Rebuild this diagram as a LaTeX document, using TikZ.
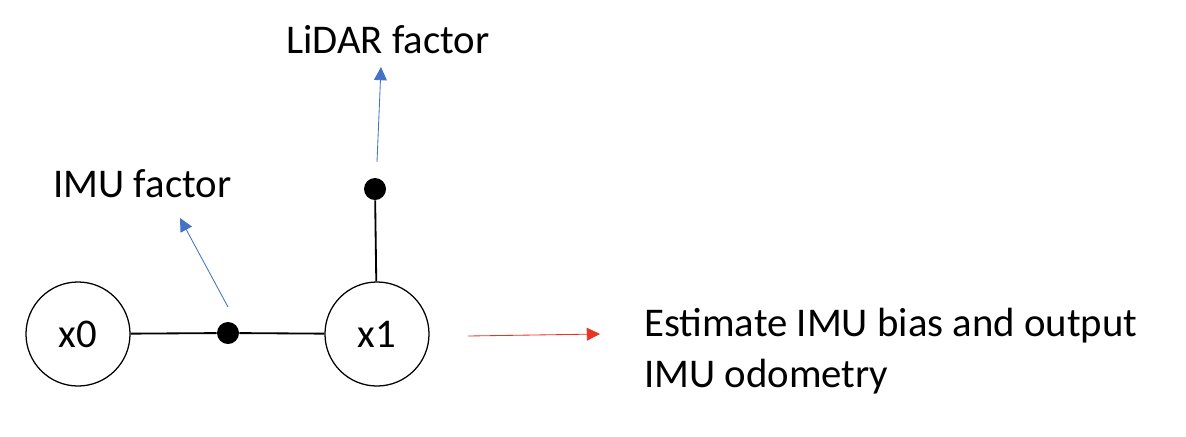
\documentclass[tikz,border=0pt]{standalone}
\usepackage{fontspec}
\setmainfont{Carlito}
\usetikzlibrary{arrows.meta, positioning}

\begin{document}
\begin{tikzpicture}[
    x=0.025cm, y=-0.025cm,
    state/.style={
        circle, draw=black, line width=0.9pt, minimum size=2.6cm,
        inner sep=0pt, font=\fontsize{29}{35}\selectfont
    },
    factor/.style={
        circle, fill=black, minimum size=0.55cm, inner sep=0pt
    },
    txt/.style={
        inner sep=0pt, align=left, font=\fontsize{29}{35.6}\selectfont
    },
    line/.style={
        draw, line width=1.3pt
    },
    note/.style={
        draw, line width=0.6pt, -{Triangle[length=0.33cm, width=0.32cm]}
    }
]
\useasboundingbox (0,0) rectangle (1186,436);

% States
\node[state] (x0) at (78,334) {x0};
\node[state] (x1) at (377,334) {x1};

% Factors
\node[factor] (imu) at (228,333) {};
\node[factor] (lidar) at (375,189) {};

% Texts
\node[txt, anchor=base west] (imutext) at (53,197) {IMU factor};
\node[txt, anchor=base] (lidartext) at (388,53) {LiDAR factor};
\node[txt, anchor=base west] (output) at (644,387) {Estimate IMU bias and output\\IMU odometry};

% Arrow ends
\coordinate (imutail) at (228,307);
\coordinate (imuhead) at (180,218);
\coordinate (lidartail) at (377,162);
\coordinate (lidarhead) at (381,67);
\coordinate (outtail) at (468,336);
\coordinate (outhead) at (600,334);

% Draw connections
\draw[line] (x0) -- (imu);
\draw[line] (imu) -- (x1);
\draw[line] (lidar) -- (x1);

% Notes
\draw[note, color={rgb,255:red,68;green,114;blue,196}] (imutail) -- (imuhead);
\draw[note, color={rgb,255:red,68;green,114;blue,196}] (lidartail) -- (lidarhead);
\draw[note, color={rgb,255:red,234;green,51;blue,35}] (outtail) -- (outhead);

\end{tikzpicture}
\end{document}
